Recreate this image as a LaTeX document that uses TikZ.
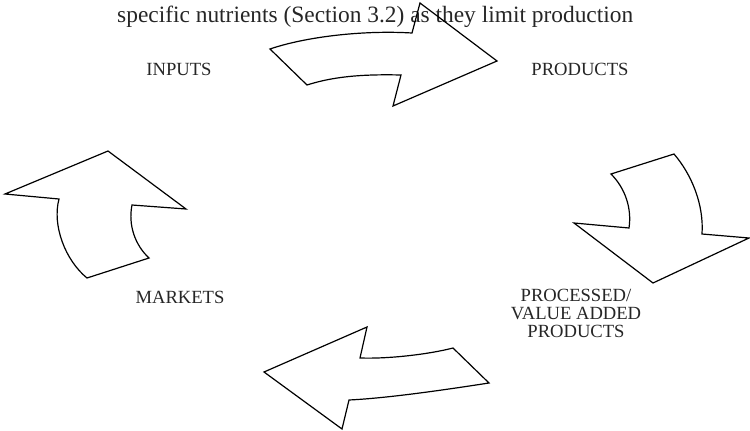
\documentclass[tikz,border=0pt]{standalone}
\usepackage{fontspec}
\setmainfont{Liberation Serif}
\begin{document}
\begin{tikzpicture}[x=1pt,y=-1pt,
  bigarrow/.style={draw=black,line width=1.2pt,line join=miter},
  lbl/.style={font=\fontsize{18.6}{18}\selectfont,inner sep=0pt,text=black!85},
  toptext/.style={font=\fontsize{23.4}{26}\selectfont,inner sep=0pt,text=black!85}]
\useasboundingbox (0,0) rectangle (750,431);
% top running text
\node[toptext,anchor=base west] (head) at (117,22) {specific nutrients (Section 3.2) as they limit production};
% arrows
\draw[bigarrow] (270,49) .. controls (305,37) and (362,30) .. (412,33) -- (420,3) -- (497,61) -- (393,106) -- (401,75)
  .. controls (360,74) and (332,77) .. (307,85) -- cycle;
\draw[bigarrow] (611,174) -- (674,154) .. controls (692,175) and (704,205) .. (702,234) -- (749,238) -- (653,283) -- (574,223) -- (629,228)
  .. controls (632,208) and (625,188) .. cycle;
\draw[bigarrow] (264,372) -- (367,327) -- (360,358) .. controls (390,359) and (430,354) .. (453,348) -- (489,383)
  .. controls (450,389) and (390,398) .. (349,400) -- (342,429) -- cycle;
\draw[bigarrow] (5,194) -- (108,151) -- (186,209) -- (132,205) .. controls (128,225) and (135,245) .. (149,258) -- (87,278)
  .. controls (65,260) and (52,225) .. (59,199) -- cycle;
% labels
\node[lbl,anchor=base] (inputs) at (179,75) {INPUTS};
\node[lbl,anchor=base] (products) at (580,75) {PRODUCTS};
\node[lbl,anchor=base] (markets) at (180,303) {MARKETS};
\node[lbl,align=center,anchor=center] (processed) at (576,313) {PROCESSED/\\VALUE ADDED\\PRODUCTS};
\end{tikzpicture}
\end{document}
